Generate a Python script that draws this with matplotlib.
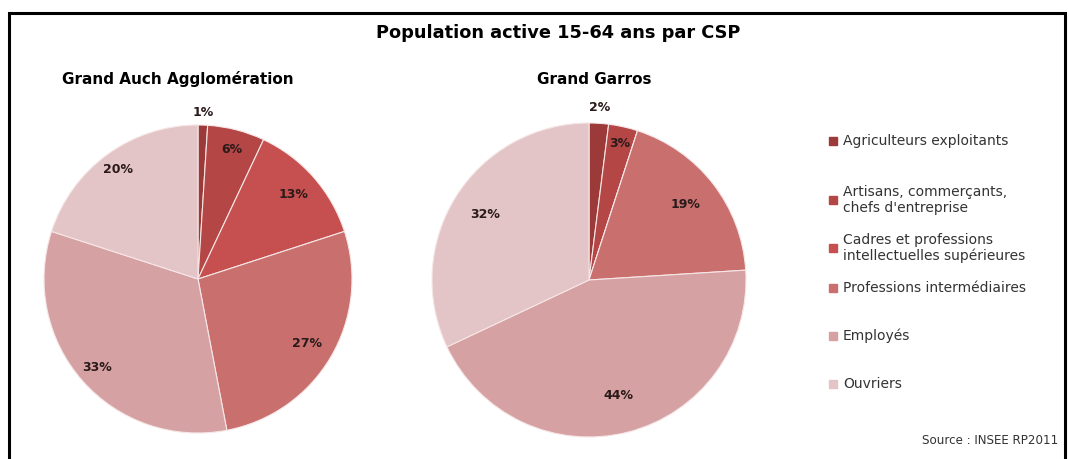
import numpy as np
import matplotlib.pyplot as plt
from matplotlib.patches import Rectangle

categories = [
    "Agriculteurs exploitants",
    "Artisans, commerçants,\nchefs d'entreprise",
    "Cadres et professions\nintellectuelles supérieures",
    "Professions intermédiaires",
    "Employés",
    "Ouvriers",
]
auch_values = [1, 6, 13, 27, 33, 20]
garros_values = [2, 3, 0, 19, 44, 32]
colors = ["#9c3a3a", "#b44646", "#c65050", "#c9706f", "#d6a1a3", "#e3c4c7"]

title = "Population active 15-64 ans par CSP"
source = "Source : INSEE RP2011"

W, H = 1069, 459
fig = plt.figure(figsize=(W / 100, H / 100), dpi=100)
fig.patch.set_facecolor("white")

# frame around the whole chart
fig.add_artist(Rectangle((9 / W, -0.05), (1065 - 9) / W, 1.05 - 13 / H,
                         transform=fig.transFigure, fill=False,
                         edgecolor="black", linewidth=2.2))


def draw_pie(cx, cy, r, values, name, name_x, label_dist):
    ax = fig.add_axes([(cx - r) / W, (H - cy - r) / H, 2 * r / W, 2 * r / H])
    ax.pie(values, colors=colors, startangle=90, counterclock=False, radius=1,
           wedgeprops=dict(edgecolor="#f6e6e6", linewidth=0.8))
    ax.set_xlim(-1, 1)
    ax.set_ylim(-1, 1)
    ax.set_aspect("auto")
    ax.axis("off")
    total = sum(values)
    cum = 0
    for v, d in zip(values, label_dist):
        if v > 0:
            mid = (cum + v / 2) / total * 2 * np.pi
            ax.text(d * np.sin(mid), d * np.cos(mid), f"{v}%", ha="center",
                    va="center", fontsize=9, fontweight="bold", color="#2a1a1a",
                    clip_on=False)
        cum += v
    fig.text(name_x / W, 1 - 79 / H, name, fontsize=11, fontweight="bold",
             va="center")


draw_pie(198, 279, 154, auch_values, "Grand Auch Agglomération", 62,
         [1.08, 0.87, 0.83, 0.82, 0.87, 0.88])
draw_pie(589, 280, 157, garros_values, "Grand Garros", 537,
         [1.1, 0.89, 0.8, 0.78, 0.76, 0.78])

fig.text(558 / W, 1 - 33 / H, title, ha="center", va="center",
         fontsize=12.8, fontweight="bold")

# legend
leg_y = [141, 200, 248, 288, 336, 384]
for c, label, y in zip(colors, categories, leg_y):
    fig.add_artist(Rectangle((829 / W, 1 - (y + 4) / H), 8 / W, 8 / H,
                             transform=fig.transFigure, color=c))
    fig.text(843 / W, 1 - y / H, label, fontsize=10, va="center",
             color="#333333", linespacing=1.1)

fig.text(1058 / W, 1 - 441 / H, source, ha="right", va="center",
         fontsize=8.6, color="#333333")

fig.savefig("out.png", dpi=100)
